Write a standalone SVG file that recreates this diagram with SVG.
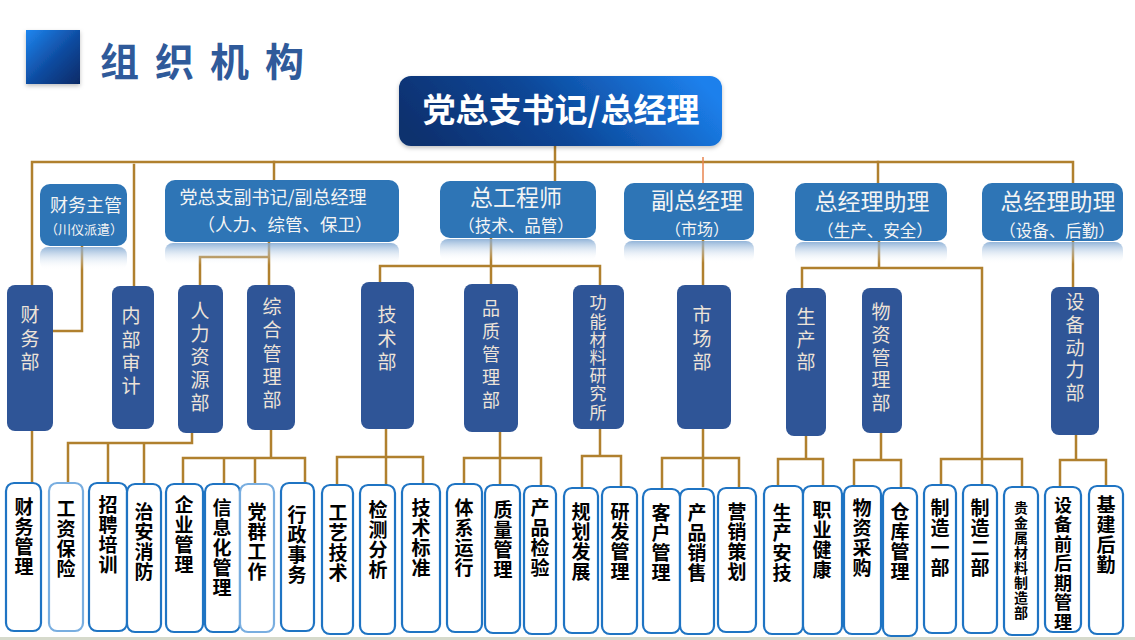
<svg xmlns="http://www.w3.org/2000/svg" width="1135" height="640" viewBox="0 0 1135 640">
<defs>
<linearGradient id="gSq" x1="0" y1="0" x2="1" y2="1">
<stop offset="0" stop-color="#1E86F0"/><stop offset="0.55" stop-color="#0F4A9E"/><stop offset="1" stop-color="#062A66"/>
</linearGradient>
<linearGradient id="gMain" x1="0" y1="0.6" x2="1" y2="0.4">
<stop offset="0" stop-color="#08306E"/><stop offset="0.45" stop-color="#0C4696"/><stop offset="1" stop-color="#1C80EC"/>
</linearGradient>
<linearGradient id="gRef" x1="0" y1="0" x2="0" y2="1">
<stop offset="0" stop-color="#7FA7D2" stop-opacity="0.85"/><stop offset="1" stop-color="#FFFFFF" stop-opacity="0"/>
</linearGradient>
<filter id="sh" x="-10%" y="-20%" width="120%" height="150%">
<feDropShadow dx="0" dy="2" stdDeviation="2" flood-color="#000" flood-opacity="0.25"/>
</filter>
</defs>
<style>
.ln{fill:none;stroke:#B0802E;stroke-width:2.5;stroke-linecap:square}
.org{fill:none;stroke:#E8854F;stroke-width:1.5}
.l2{fill:#2E75B6}
.ref{fill:url(#gRef)}
.l3{fill:#2F5597}
.l4{fill:#FFFFFF;stroke:#1F74C3;stroke-width:2.2}
.l4b{fill:#FFFFFF;stroke:#79AEE0;stroke-width:2.2}
.t2{font-family:"Noto Sans CJK SC","Noto Sans",sans-serif;fill:#F4F4F4;text-anchor:middle}
.v{writing-mode:vertical-rl;text-orientation:upright}
.t3{font-family:"Noto Sans CJK SC","Noto Sans",sans-serif;fill:#EDE3D8;font-size:19px}
.t4{font-family:"Noto Sans CJK SC","Noto Sans",sans-serif;fill:#000;font-weight:bold;font-size:19px;letter-spacing:1px}
</style>
<rect width="1135" height="640" fill="#FFFFFF"/>
<rect x="0" y="637" width="1135" height="3" fill="#D6DACC"/>

<g id="title">
<rect x="26" y="30" width="54" height="54" fill="url(#gSq)" filter="url(#sh)"/>
<text x="100" y="76" font-family="'Noto Sans CJK SC','Noto Sans',sans-serif" font-size="39" font-weight="bold" fill="#2F5A9A" letter-spacing="16">组织机构</text>
</g>

<g id="connectors">
<path class="ln" d="M32,285 V162 H1073 V183"/>
<path class="ln" d="M134,165 V286"/>
<path class="ln" d="M555,146 V181"/>
<path class="ln" d="M274,162 V180"/>
<path class="ln" d="M878,162 V183"/>
<path class="org" d="M703,157 V183"/>
<path class="ln" d="M82,246 V331 H53"/>
<path class="ln" d="M269,241 V285 M200,285 V257 H269"/>
<path class="ln" d="M491,238 V284 M380,282 V266 H600 V285"/>
<path class="ln" d="M703,240 V285"/>
<path class="ln" d="M879,241 V268 M802,288 V268 H982 V484"/>
<path class="ln" d="M1073,241 V292"/>
<path class="ln" d="M32,431 V484"/>
<path class="ln" d="M192,433 V443 H68 V484 M108,443 V484 M144,443 V484"/>
<path class="ln" d="M271,430 V458 M183,484 V458 H305 V484 M224,458 V484 M255,458 V484"/>
<path class="ln" d="M386,429 V485 M337,485 V457 H423 V485"/>
<path class="ln" d="M500,432 V485 M464,485 V458 H541 V485"/>
<path class="ln" d="M600,429 V456 M582,486 V456 H621 V486"/>
<path class="ln" d="M703,429 V486 M662,487 V458 H739 V487"/>
<path class="ln" d="M806,436 V459 M778,486 V459 H823 V486"/>
<path class="ln" d="M881,433 V460 M854,486 V460 H901 V486"/>
<path class="ln" d="M941,485 V459 H1022 V486"/>
<path class="ln" d="M1076,435 V460 M1060,486 V460 H1106 V486"/>
</g>

<g id="n-main">
<rect x="399" y="76" width="323" height="70" rx="12" fill="url(#gMain)" filter="url(#sh)"/>
<text x="561" y="122" font-family="'Noto Sans CJK SC','Noto Sans',sans-serif" font-size="33" font-weight="bold" fill="#FFFFFF" text-anchor="middle">党总支书记/总经理</text>
</g>

<g id="n-cwzg">
<rect class="ref" x="40" y="247" width="87" height="23" rx="8"/>
<rect class="l2" x="40" y="184" width="87" height="62" rx="10"/>
<text class="t2"><tspan x="86" y="212" font-size="18">财务主管</tspan><tspan x="84" y="234" font-size="13">（川仪派遣）</tspan></text>
</g>
<g id="n-fsj">
<rect class="ref" x="165" y="243" width="234" height="22" rx="8"/>
<rect class="l2" x="165" y="180" width="234" height="62" rx="10"/>
<text class="t2"><tspan x="273" y="204" font-size="18">党总支副书记/副总经理</tspan><tspan x="285" y="231" font-size="17.5">（人力、综管、保卫）</tspan></text>
</g>
<g id="n-zgcs">
<rect class="ref" x="440" y="239" width="156" height="22" rx="8"/>
<rect class="l2" x="440" y="181" width="156" height="57" rx="10"/>
<text class="t2"><tspan x="516" y="206" font-size="23">总工程师</tspan><tspan x="516" y="232" font-size="16.5">（技术、品管）</tspan></text>
</g>
<g id="n-fzjl">
<rect class="ref" x="624" y="241" width="130" height="22" rx="8"/>
<rect class="l2" x="624" y="183" width="130" height="57" rx="10"/>
<text class="t2"><tspan x="697" y="209" font-size="23">副总经理</tspan><tspan x="697" y="235" font-size="16">（市场）</tspan></text>
</g>
<g id="n-zl1">
<rect class="ref" x="795" y="242" width="152" height="22" rx="8"/>
<rect class="l2" x="795" y="183" width="152" height="58" rx="10"/>
<text class="t2"><tspan x="872" y="210" font-size="23">总经理助理</tspan><tspan x="875" y="237" font-size="16.5">（生产、安全）</tspan></text>
</g>
<g id="n-zl2">
<rect class="ref" x="982" y="242" width="141" height="22" rx="8"/>
<rect class="l2" x="982" y="183" width="141" height="58" rx="10"/>
<text class="t2"><tspan x="1058" y="210" font-size="23">总经理助理</tspan><tspan x="1057" y="237" font-size="16.5">（设备、后勤）</tspan></text>
</g>

<g id="n-cwb">
<rect class="l3" x="7" y="285" width="46" height="146" rx="8"/>
<text class="t3 v" x="30" y="305.5" letter-spacing="4.5">财务部</text>
</g>
<g id="n-nbsj">
<rect class="l3" x="112" y="286" width="42" height="143" rx="8"/>
<text class="t3 v" x="131" y="306.5" letter-spacing="4.3">内部审计</text>
</g>
<g id="n-rlzy">
<rect class="l3" x="178" y="285" width="45" height="148" rx="8"/>
<text class="t3 v" x="200" y="301.5" letter-spacing="4">人力资源部</text>
</g>
<g id="n-zhgl">
<rect class="l3" x="247" y="285" width="48" height="145" rx="8"/>
<text class="t3 v" x="272" y="297.5" letter-spacing="4.25">综合管理部</text>
</g>
<g id="n-jsb">
<rect class="l3" x="361" y="282" width="53" height="147" rx="8"/>
<text class="t3 v" x="387" y="305.5" letter-spacing="4.5">技术部</text>
</g>
<g id="n-pzgl">
<rect class="l3" x="464" y="284" width="54" height="148" rx="8"/>
<text class="t3 v" x="491" y="299" letter-spacing="5" style="font-size:18px">品质管理部</text>
</g>
<g id="n-gncl">
<rect class="l3" x="573" y="285" width="51" height="144" rx="8"/>
<text class="t3 v" x="598" y="294.5" letter-spacing="1.2" style="font-size:17px">功能材料研究所</text>
</g>
<g id="n-scb">
<rect class="l3" x="677" y="285" width="54" height="144" rx="8"/>
<text class="t3 v" x="702" y="305.5" letter-spacing="4.5">市场部</text>
</g>
<g id="n-sc">
<rect class="l3" x="786" y="288" width="40" height="148" rx="8"/>
<text class="t3 v" x="806" y="307.5" letter-spacing="3.5">生产部</text>
</g>
<g id="n-wzgl">
<rect class="l3" x="862" y="288" width="40" height="145" rx="8"/>
<text class="t3 v" x="881" y="302.5" letter-spacing="3.75">物资管理部</text>
</g>
<g id="n-sbdl">
<rect class="l3" x="1051" y="287" width="48" height="148" rx="8"/>
<text class="t3 v" x="1075" y="292.5" letter-spacing="3.75">设备动力部</text>
</g>

<g id="b1"><rect class="l4" x="6" y="483" width="35" height="148" rx="8" stroke="#3A7EC4"/><text class="t4 v" x="24" y="497.5">财务管理</text></g>
<g id="b2"><rect class="l4b" x="49" y="483" width="34" height="148" rx="8"/><text class="t4 v" x="66" y="499.5">工资保险</text></g>
<g id="b3"><rect class="l4" x="89" y="483" width="38" height="148" rx="8"/><text class="t4 v" x="108" y="495.5">招聘培训</text></g>
<g id="b4"><rect class="l4" x="127" y="484" width="34" height="148" rx="8"/><text class="t4 v" x="144" y="502.5">治安消防</text></g>
<g id="b5"><rect class="l4" x="166" y="484" width="37" height="148" rx="8"/><text class="t4 v" x="184" y="495.5">企业管理</text></g>
<g id="b6"><rect class="l4" x="205" y="484" width="35" height="148" rx="8"/><text class="t4 v" x="222" y="498.5">信息化管理</text></g>
<g id="b7"><rect class="l4b" x="240" y="484" width="34" height="148" rx="8"/><text class="t4 v" x="257" y="502.5">党群工作</text></g>
<g id="b8"><rect class="l4" x="281" y="483" width="33" height="148" rx="8"/><text class="t4 v" x="297" y="505.5">行政事务</text></g>
<g id="b9"><rect class="l4" x="322" y="485" width="31" height="149" rx="8"/><text class="t4 v" x="338" y="503.5">工艺技术</text></g>
<g id="b10"><rect class="l4" x="360" y="485" width="35" height="149" rx="8"/><text class="t4 v" x="378" y="500.5">检测分析</text></g>
<g id="b11"><rect class="l4" x="402" y="484" width="38" height="148" rx="8"/><text class="t4 v" x="421" y="498.5">技术标准</text></g>
<g id="b12"><rect class="l4" x="447" y="484" width="35" height="148" rx="8"/><text class="t4 v" x="464" y="498.5">体系运行</text></g>
<g id="b13"><rect class="l4" x="485" y="485" width="35" height="148" rx="8"/><text class="t4 v" x="503" y="500.5">质量管理</text></g>
<g id="b14"><rect class="l4" x="524" y="486" width="32" height="148" rx="8"/><text class="t4 v" x="540" y="498.5">产品检验</text></g>
<g id="b15"><rect class="l4" x="564" y="488" width="34" height="145" rx="8"/><text class="t4 v" x="581" y="502.5">规划发展</text></g>
<g id="b16"><rect class="l4" x="602" y="487" width="35" height="147" rx="8"/><text class="t4 v" x="620" y="502.5">研发管理</text></g>
<g id="b17"><rect class="l4" x="643" y="489" width="37" height="144" rx="8"/><text class="t4 v" x="661" y="503.5">客户管理</text></g>
<g id="b18"><rect class="l4" x="680" y="489" width="34" height="145" rx="8"/><text class="t4 v" x="697" y="503.5">产品销售</text></g>
<g id="b19"><rect class="l4" x="718" y="488" width="38" height="144" rx="8"/><text class="t4 v" x="737" y="502.5">营销策划</text></g>
<g id="b20"><rect class="l4" x="764" y="486" width="39" height="148" rx="8"/><text class="t4 v" x="782" y="503.5">生产安技</text></g>
<g id="b21"><rect class="l4" x="803" y="486" width="39" height="148" rx="8"/><text class="t4 v" x="822" y="500.5">职业健康</text></g>
<g id="b22"><rect class="l4" x="844" y="486" width="37" height="148" rx="8"/><text class="t4 v" x="862" y="498.5">物资采购</text></g>
<g id="b23"><rect class="l4" x="883" y="488" width="34" height="148" rx="8"/><text class="t4 v" x="900" y="502.5">仓库管理</text></g>
<g id="b24"><rect class="l4" x="924" y="485" width="32" height="148" rx="8"/><text class="t4 v" x="940" y="498.5">制造一部</text></g>
<g id="b25"><rect class="l4" x="963" y="485" width="34" height="148" rx="8"/><text class="t4 v" x="980" y="498.5">制造二部</text></g>
<g id="b26"><rect class="l4" x="1004" y="487" width="34" height="148" rx="8"/><text class="t4 v" x="1021" y="501" style="font-size:14px">贵金属材料制造部</text></g>
<g id="b27"><rect class="l4" x="1045" y="487" width="36" height="145" rx="8"/><text class="t4 v" x="1063" y="496" style="font-size:18px;letter-spacing:1.5px">设备前后期管理</text></g>
<g id="b28"><rect class="l4" x="1089" y="486" width="34" height="148" rx="8"/><text class="t4 v" x="1106" y="495.5">基建后勤</text></g>
</svg>
